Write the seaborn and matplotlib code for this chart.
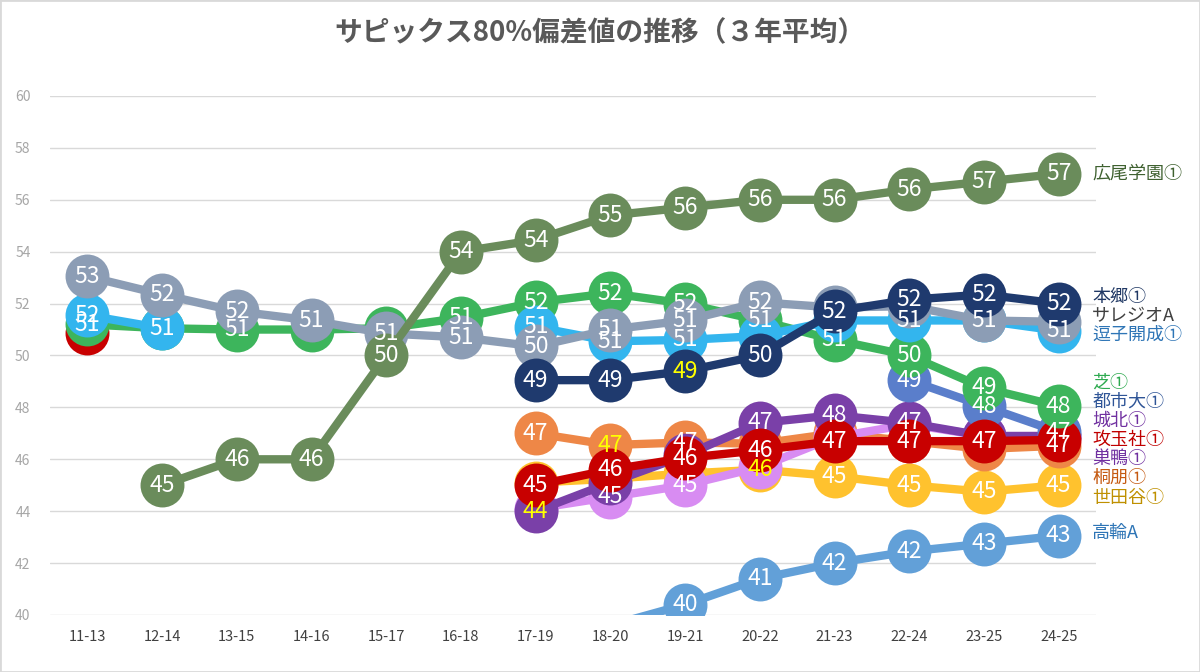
import math
import numpy as np
import pandas as pd
import matplotlib
matplotlib.use("Agg")
import matplotlib.pyplot as plt
from matplotlib.patches import Rectangle
import seaborn as sns

nan = np.nan

# ---------------- data ----------------
periods = ['11-13', '12-14', '13-15', '14-16', '15-17', '16-18', '17-19',
           '18-20', '19-21', '20-22', '21-23', '22-24', '23-25', '24-25']

hiroo = [nan, 45.0, 46.0, 46.0, 50.0, 54.0, 54.45, 55.4, 55.7, 56.0, 56.0, 56.4, 56.7, 57.0]
hongo = [nan, nan, nan, nan, nan, nan, 49.05, 49.05, 49.4, 50.0, 51.7, 52.15, 52.35, 52.0]
salesio = [53.05, 52.35, 51.7, 51.35, 50.85, 50.7, 50.35, 51.0, 51.35, 52.05, 51.85, 51.9, 51.35, 51.3]
zushi = [51.55, 51.05, nan, nan, nan, nan, 51.1, 50.55, 50.6, 50.75, 51.35, 51.35, 51.35, 50.95]
shiba = [51.2, 51.05, 51.0, 51.0, 51.05, 51.45, 52.05, 52.4, 52.0, 51.35, 50.6, 50.0, 48.75, 48.05]
toshidai = [nan, nan, nan, nan, nan, nan, nan, nan, nan, nan, nan, 49.05, 48.05, 47.05]
johoku = [nan, nan, nan, nan, nan, nan, 44.0, 45.1, 46.15, 47.4, 47.7, 47.4, 46.9, 46.9]
kogyokusha = [50.85, nan, nan, nan, nan, nan, 45.0, 45.6, 46.05, 46.35, 46.7, 46.7, 46.7, 46.75]
sugamo = [nan, nan, nan, nan, nan, nan, 44.1, 44.55, 45.0, 45.7, 46.85, 47.35, 46.9, 46.85]
toho = [nan, nan, nan, nan, nan, nan, 47.0, 46.55, 46.65, 46.6, 47.0, 46.7, 46.4, 46.52]
setagaya = [nan, nan, nan, nan, nan, nan, 45.1, 45.25, 45.45, 45.6, 45.35, 45.0, 44.75, 45.0]
takanawa = [nan, nan, nan, nan, nan, nan, nan, 39.6, 40.4, 41.4, 42.0, 42.45, 42.75, 43.05]

# drawing order: bottom -> top
series_names = ['高輪A', '世田谷①', '桐朋①', '巣鴨①', '城北①', '都市大①', '攻玉社①',
                '芝①', '逗子開成①', 'サレジオA', '広尾学園①', '本郷①']
series_values = [takanawa, setagaya, toho, sugamo, johoku, toshidai, kogyokusha,
                 shiba, zushi, salesio, hiroo, hongo]

# data labels that are not shown in the original chart
hidden_labels = {
    '攻玉社①': ['11-13', '24-25'],
    '芝①': ['12-14', '14-16', '15-17'],
    'サレジオA': ['21-23', '22-24', '24-25'],
    '逗子開成①': ['20-22', '21-23', '23-25'],
    '世田谷①': ['17-19', '18-20', '19-21'],
    '巣鴨①': ['17-19', '20-22', '21-23', '22-24', '23-25', '24-25'],
    '城北①': ['18-20', '19-21', '23-25', '24-25'],
    '桐朋①': ['20-22', '21-23', '22-24', '23-25'],
}
# data labels written in yellow
yellow_labels = {
    '本郷①': ['19-21'],
    '城北①': ['17-19'],
    '桐朋①': ['18-20'],
    '世田谷①': ['20-22'],
}

title = 'サピックス80%偏差値の推移（３年平均）'

# ---------------- styles ----------------
marker_colors = {
    '広尾学園①': '#6A8C5B', '本郷①': '#1F3A6E', 'サレジオA': '#8C9DB5',
    '逗子開成①': '#33B5EE', '芝①': '#3DB55C', '都市大①': '#5A7ECB',
    '城北①': '#7A40A8', '攻玉社①': '#C80000', '巣鴨①': '#D88CF2',
    '桐朋①': '#EE8747', '世田谷①': '#FFC22E', '高輪A': '#62A0D8',
}
name_colors = {
    '広尾学園①': '#3F6130', '本郷①': '#203864', 'サレジオA': '#404040',
    '逗子開成①': '#2E75B6', '芝①': '#2EAA50', '都市大①': '#2F5597',
    '城北①': '#7030A0', '攻玉社①': '#C00000', '巣鴨①': '#7030A0',
    '桐朋①': '#C55A11', '世田谷①': '#BF9000', '高輪A': '#2E75B6',
}
# layout: vertical positions (data units) of the series names at the right
name_y = {
    '広尾学園①': 57.03, '本郷①': 52.25, 'サレジオA': 51.52, '逗子開成①': 50.79,
    '芝①': 48.94, '都市大①': 48.21, '城北①': 47.48, '攻玉社①': 46.74,
    '巣鴨①': 46.01, '桐朋①': 45.28, '世田谷①': 44.51, '高輪A': 43.16,
}

sns.set_theme(style='white')
plt.rcParams['font.family'] = ['Noto Sans CJK JP', 'DejaVu Sans']

W, H = 1200, 672
fig = plt.figure(figsize=(W / 100, H / 100), dpi=100)
ax = fig.add_axes([50 / W, 1 - 615 / H, 1046 / W, 519 / H])

YMIN, YMAX = 40, 60

for z, (name, vals) in enumerate(zip(series_names, series_values)):
    df = pd.DataFrame({'period': periods, 'value': vals})
    df['pos'] = np.arange(len(periods))
    df['seg'] = df['value'].isna().cumsum()
    d = df.dropna(subset=['value'])
    col = marker_colors[name]
    sns.lineplot(data=d, x='pos', y='value', units='seg', estimator=None,
                 color=col, linewidth=6, ax=ax, zorder=2 + z * 2, legend=False,
                 solid_capstyle='butt')
    dm = d[d['value'] >= YMIN]
    sns.scatterplot(data=dm, x='pos', y='value', color=col, s=1000,
                    linewidth=0, ax=ax, zorder=3 + z * 2, legend=False)
    hid = hidden_labels.get(name, [])
    yel = yellow_labels.get(name, [])
    for _, r in dm.iterrows():
        if r['period'] in hid:
            continue
        txt = str(int(math.floor(r['value'] + 0.5)))
        tc = '#FFFF00' if r['period'] in yel else 'white'
        ax.text(r['pos'], r['value'], txt, ha='center', va='center',
                fontsize=16.5, color=tc, zorder=100)

for name in series_names:
    ax.text(13.45, name_y[name], name, ha='left', va='center', fontsize=13,
            color=name_colors[name], zorder=100, clip_on=False)

ax.set_xlim(-0.5, len(periods) - 0.5)
ax.set_ylim(YMIN, YMAX)
ax.set_xticks(np.arange(len(periods)))
ax.set_xticklabels(periods)
ax.set_yticks(np.arange(40, 61, 2))
ax.yaxis.grid(True, color='#D9D9D9', linewidth=1)
ax.xaxis.grid(False)
ax.set_axisbelow(True)
for s in ax.spines.values():
    s.set_visible(False)
ax.tick_params(axis='y', length=0, pad=14, labelsize=10, labelcolor='#A6A6A6')
ax.tick_params(axis='x', length=0, pad=11, labelsize=10.5, labelcolor='#404040')
ax.set_xlabel('')
ax.set_ylabel('')

fig.text(0.5, 1 - 33 / H, title, ha='center', va='center', fontsize=20,
         fontweight='bold', color='#595959')
fig.patches.append(Rectangle((0, 0), 1, 1, transform=fig.transFigure,
                             fill=False, edgecolor='#D9D9D9', linewidth=2))

fig.savefig('out.png', dpi=100)
